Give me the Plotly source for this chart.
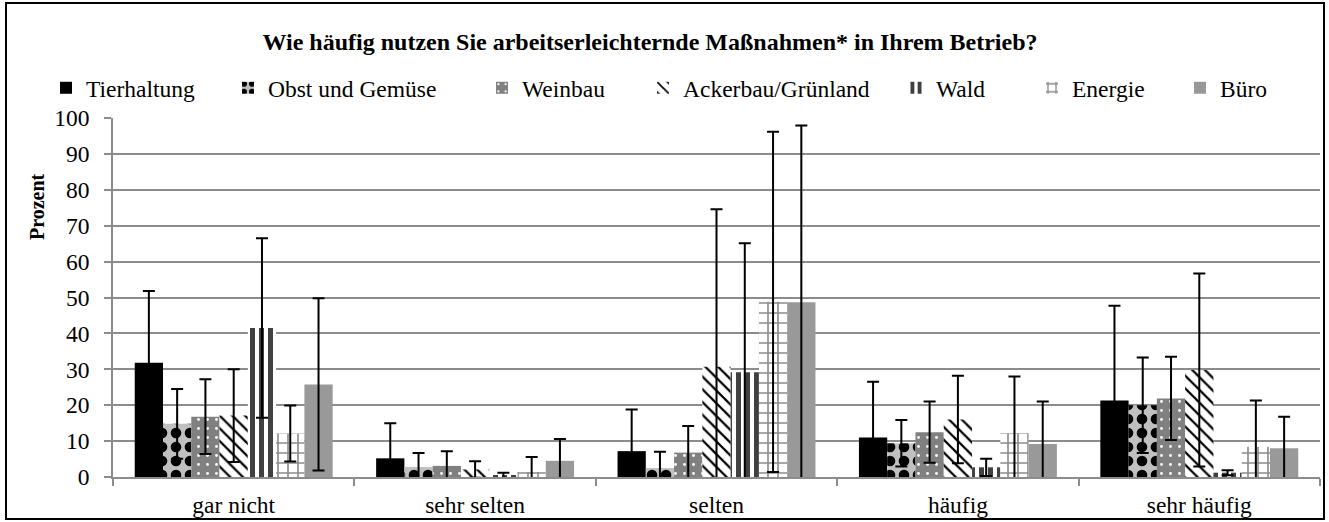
import plotly.graph_objects as go

categories = ["gar nicht", "sehr selten", "selten", "häufig", "sehr häufig"]
series_names = ["Tierhaltung", "Obst und Gemüse", "Weinbau", "Ackerbau/Grünland", "Wald", "Energie", "Büro"]

tierhaltung = [31.8, 5.2, 7.2, 11.0, 21.3]
obst_gemuese = [14.8, 2.8, 2.5, 9.4, 20.0]
weinbau = [16.8, 3.1, 6.8, 12.5, 21.9]
ackerbau = [17.1, 2.1, 30.7, 16.0, 29.8]
wald = [41.5, 0.4, 29.2, 2.7, 1.2]
energie = [12.1, 1.4, 48.8, 12.2, 8.4]
buero = [25.8, 4.5, 48.7, 9.2, 8.0]

err_tierhaltung = [20.0, 9.8, 11.6, 15.5, 26.4]
err_obst = [9.7, 3.9, 4.5, 6.5, 13.3]
err_weinbau = [10.4, 4.1, 7.4, 8.5, 11.6]
err_ackerbau = [12.9, 2.3, 43.9, 12.2, 26.9]
err_wald = [25.0, 0.8, 35.9, 2.4, 0.7]
err_energie = [7.8, 4.2, 47.4, 15.8, 12.9]
err_buero = [24.0, 6.1, 49.2, 11.8, 8.8]

values = [tierhaltung, obst_gemuese, weinbau, ackerbau, wald, energie, buero]
errors = [err_tierhaltung, err_obst, err_weinbau, err_ackerbau, err_wald, err_energie, err_buero]

FONT = "Liberation Serif, Times New Roman, serif"
FS = 23.5

W, H = 1329, 522
ML, MR, MT, MB = 113, 9, 118, 45
PW = W - ML - MR
PH = H - MT - MB

styles = [
    dict(color="#000000"),
    dict(color="#c0c0c0", pattern=dict(shape=".", fgcolor="#000000", bgcolor="#c0c0c0", size=14, solidity=0.45, fillmode="replace")),
    dict(color="#808080", pattern=dict(shape=".", fgcolor="#ffffff", bgcolor="#808080", size=9, solidity=0.08, fillmode="replace")),
    dict(color="#ffffff", pattern=dict(shape="\\", fgcolor="#000000", bgcolor="#ffffff", size=9, solidity=0.25, fillmode="replace")),
    dict(color="#404040", pattern=dict(shape="|", fgcolor="#404040", bgcolor="#ffffff", size=9, solidity=0.55, fillmode="replace")),
    dict(color="#a6a6a6", pattern=dict(shape="+", fgcolor="#8c8c8c", bgcolor="#ffffff", size=10, solidity=0.3, fillmode="replace")),
    dict(color="#999999"),
]

# text start x-positions (pixels) of legend entries
legend_text_x = [86, 268, 522, 683, 936, 1072, 1220]

fig = go.Figure()
for i, (name, vals, errs, st) in enumerate(zip(series_names, values, errors, styles)):
    lg = "legend" if i == 0 else f"legend{i+1}"
    marker = dict(line=dict(width=0), **st)
    fig.add_trace(go.Bar(
        x=categories, y=vals, name=name, legend=lg,
        marker=marker,
        error_y=dict(type="data", array=errs, visible=True, color="#000000", thickness=2, width=6),
    ))

layout_legends = {}
for i, tx in enumerate(legend_text_x):
    key = "legend" if i == 0 else f"legend{i+1}"
    px = tx - 40
    layout_legends[key] = dict(
        x=(px - ML) / PW, xanchor="left",
        y=(H - MB - 88) / PH, yanchor="middle", orientation="h",
        font=dict(family=FONT, size=FS, color="#000000"),
        bgcolor="rgba(0,0,0,0)", itemwidth=30, tracegroupgap=0,
    )

fig.update_layout(
    width=W, height=H,
    margin=dict(l=ML, r=MR, t=MT, b=MB, autoexpand=False),
    paper_bgcolor="#ffffff", plot_bgcolor="#ffffff",
    barmode="group", bargap=0.18, bargroupgap=0,
    font=dict(family=FONT, size=FS, color="#000000"),
    title=dict(text="<b>Wie häufig nutzen Sie arbeitserleichternde Maßnahmen* in Ihrem Betrieb?</b>",
               x=650 / W, xref="container", xanchor="center",
               y=1 - 42 / H, yref="container", yanchor="middle",
               font=dict(family=FONT, size=24, color="#000000")),
    showlegend=True,
    **layout_legends,
)

fig.update_yaxes(range=[0, 100], dtick=10, showgrid=True, gridcolor="#8c8c8c", gridwidth=1.5,
                 showline=True, linecolor="#8c8c8c", linewidth=1.5,
                 ticks="outside", ticklen=7, tickcolor="#8c8c8c", tickwidth=1.5,
                 ticklabelstandoff=10,
                 tickfont=dict(family=FONT, size=FS, color="#000000"),
                 zeroline=False)
fig.update_xaxes(showline=True, linecolor="#8c8c8c", linewidth=1.5,
                 ticks="outside", tickson="boundaries", ticklen=7, tickcolor="#8c8c8c", tickwidth=1.5,
                 ticklabelstandoff=6,
                 tickfont=dict(family=FONT, size=FS, color="#000000"))

# y-axis title (placed as in the reference, above the axis centre)
fig.add_annotation(text="<b>Prozent</b>", xref="paper", yref="paper",
                   x=(37 - ML) / PW, y=(H - MB - 207) / PH, textangle=-90,
                   showarrow=False, xanchor="center", yanchor="middle",
                   font=dict(family=FONT, size=20, color="#000000"))

# outer chart border
fig.add_shape(type="rect", xref="paper", yref="paper",
              x0=(6 - ML) / PW, x1=(W - 5 - ML) / PW,
              y0=(H - MB - (H - 3)) / PH, y1=(H - MB - 3) / PH,
              line=dict(color="#000000", width=2), fillcolor="rgba(0,0,0,0)", layer="below")

fig.write_html("out.html", config={"displayModeBar": False},
               post_script="document.body.style.margin='0';document.body.style.overflow='hidden';")
